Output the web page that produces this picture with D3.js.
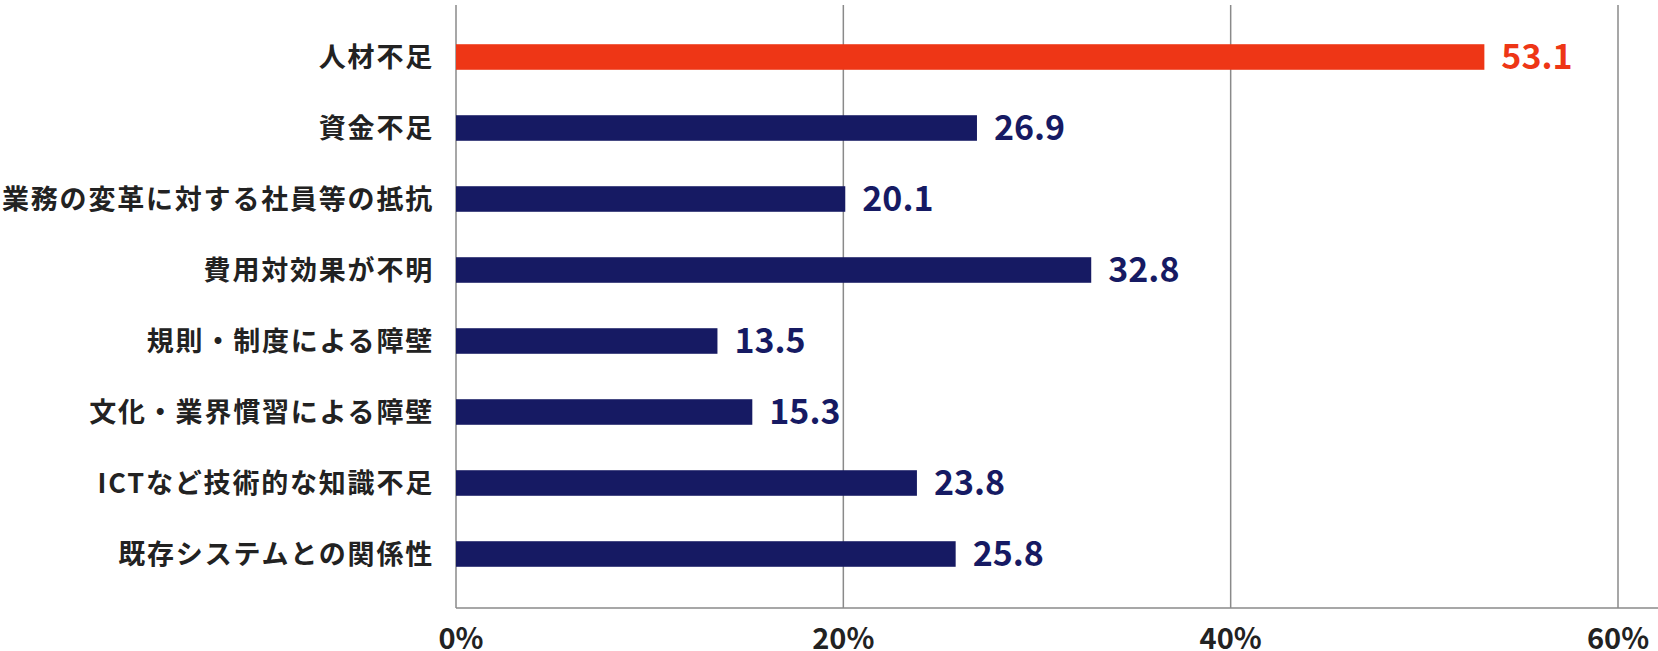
<!DOCTYPE html>
<html>
<head>
<meta charset="utf-8">
<script src="https://cdn.jsdelivr.net/npm/d3@7"></script>
<style>
  body { margin: 0; background: #fff; }
  svg { display: block; font-family: "Noto Sans CJK JP", "Noto Sans", sans-serif; }
</style>
</head>
<body>
<div id="chart"></div>
<script>
const categories = ["人材不足", "資金不足", "業務の変革に対する社員等の抵抗", "費用対効果が不明",
  "規則・制度による障壁", "文化・業界慣習による障壁", "ICTなど技術的な知識不足", "既存システムとの関係性"];
const values = [53.1, 26.9, 20.1, 32.8, 13.5, 15.3, 23.8, 25.8];
const tickValues = [0, 20, 40, 60];
const highlight = "人材不足";

const width = 1658, height = 651;
const red = "#ee3616", navy = "#161a63", gridColor = "#8a8a8a";

const svg = d3.select("#chart").append("svg")
  .attr("width", width)
  .attr("height", height);

const x = d3.scaleLinear().domain([0, 60]).range([456, 1618]);
const y = d3.scaleBand().domain(categories).range([21.5, 589.5])
  .paddingInner(0.64).paddingOuter(0.32);

const gridTop = 5, gridBottom = 608;

// grid + axis lines
svg.append("g").selectAll("line")
  .data(tickValues)
  .enter().append("line")
  .attr("x1", d => x(d)).attr("x2", d => x(d))
  .attr("y1", gridTop).attr("y2", gridBottom)
  .attr("stroke", gridColor).attr("stroke-width", 1.5);

svg.append("line")
  .attr("x1", x(0)).attr("x2", width)
  .attr("y1", gridBottom).attr("y2", gridBottom)
  .attr("stroke", gridColor).attr("stroke-width", 1.5);

// bars
svg.append("g").selectAll("rect")
  .data(categories)
  .enter().append("rect")
  .attr("x", x(0))
  .attr("y", d => y(d))
  .attr("width", (d, i) => x(values[i]) - x(0))
  .attr("height", y.bandwidth())
  .attr("fill", d => d === highlight ? red : navy);

// value labels
svg.append("g").selectAll("text")
  .data(categories)
  .enter().append("text")
  .attr("x", (d, i) => x(values[i]) + 17)
  .attr("y", d => y(d) + y.bandwidth() / 2)
  .attr("dy", "0.36em")
  .attr("font-size", 34)
  .attr("font-weight", 700)
  .attr("fill", d => d === highlight ? red : navy)
  .text((d, i) => values[i].toFixed(1));

// category labels
svg.append("g").selectAll("text")
  .data(categories)
  .enter().append("text")
  .attr("x", 434)
  .attr("y", d => y(d) + y.bandwidth() / 2)
  .attr("dy", "0.36em")
  .attr("text-anchor", "end")
  .attr("font-size", 27)
  .attr("font-weight", 700)
  .attr("letter-spacing", 1.8)
  .attr("fill", "#222")
  .text(d => d);

// tick labels
svg.append("g").selectAll("text")
  .data(tickValues)
  .enter().append("text")
  .attr("x", d => x(d) + (d === 0 ? 5 : 0))
  .attr("y", 649)
  .attr("text-anchor", "middle")
  .attr("font-size", 29)
  .attr("font-weight", 700)
  .attr("fill", "#222")
  .text(d => d + "%");
</script>
</body>
</html>
